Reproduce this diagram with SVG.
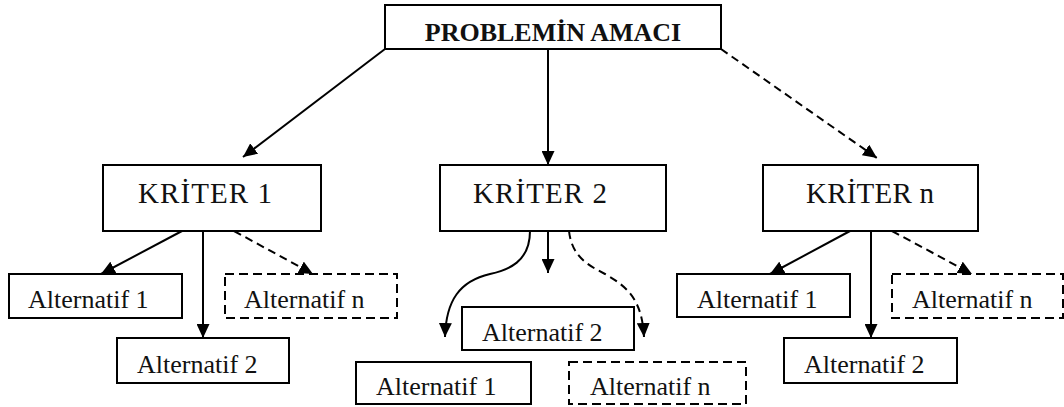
<svg xmlns="http://www.w3.org/2000/svg" width="1064" height="407" viewBox="0 0 1064 407">
<defs>
<marker id="ah" markerUnits="userSpaceOnUse" markerWidth="15" markerHeight="13" refX="14" refY="6.5" orient="auto">
<path d="M0,0 L14,6.5 L0,13 z" fill="#000"/>
</marker>
<style>
.box{fill:#fff;stroke:#000;stroke-width:2}
.dbox{fill:#fff;stroke:#000;stroke-width:2;stroke-dasharray:9 5}
.top{font-family:"Liberation Serif","Times New Roman",serif;font-weight:bold;font-size:26px;fill:#111}
.krt{font-family:"Liberation Serif","Times New Roman",serif;font-size:29px;fill:#111}
.alt{font-family:"Liberation Serif","Times New Roman",serif;font-size:26px;fill:#111}
.ln{fill:none;stroke:#000;stroke-width:2;marker-end:url(#ah)}
.dl{fill:none;stroke:#000;stroke-width:2;stroke-dasharray:8 5;marker-end:url(#ah)}
</style>
</defs>
<rect width="1064" height="407" fill="#fff"/>
<g id="connectors">
<line class="ln" x1="385" y1="49" x2="243" y2="157"/>
<line class="ln" x1="548" y1="49" x2="548" y2="165"/>
<line class="dl" x1="721" y1="49" x2="877" y2="158"/>
<line class="ln" x1="182" y1="231" x2="101" y2="274"/>
<line class="ln" x1="203" y1="231" x2="203" y2="338"/>
<line class="dl" x1="234" y1="231" x2="313" y2="274"/>
<path class="ln" d="M530 231 C530 262 508 270 490 274 C460 281 446 300 445 337"/>
<line class="ln" x1="548" y1="231" x2="548" y2="273"/>
<path class="dl" d="M569 231 C572 258 590 266 605 274 C628 287 642 300 644 337"/>
<line class="ln" x1="850" y1="231" x2="770" y2="274"/>
<line class="ln" x1="871" y1="231" x2="871" y2="338"/>
<line class="dl" x1="892" y1="231" x2="972" y2="274"/>
</g>
<g id="goal">
<rect class="box" x="385" y="5" width="336" height="44"/>
<text class="top" x="553" y="41" text-anchor="middle">PROBLEMİN AMACI</text>
</g>
<g id="k1">
<rect class="box" x="103" y="165" width="218" height="66"/>
<text class="krt" x="138" y="203" textLength="134">KRİTER 1</text>
</g>
<g id="k2">
<rect class="box" x="440" y="165" width="226" height="66"/>
<text class="krt" x="473" y="203" textLength="134">KRİTER 2</text>
</g>
<g id="kn">
<rect class="box" x="763" y="165" width="215" height="66"/>
<text class="krt" x="806" y="203" textLength="128">KRİTER n</text>
</g>
<g id="k1a1">
<rect class="box" x="9" y="274" width="173" height="44"/>
<text class="alt" x="28" y="308">Alternatif 1</text>
</g>
<g id="k1a2">
<rect class="box" x="117" y="338" width="172" height="45"/>
<text class="alt" x="137" y="373">Alternatif 2</text>
</g>
<g id="k1an">
<rect class="dbox" x="225" y="274" width="172" height="44"/>
<text class="alt" x="244" y="308">Alternatif n</text>
</g>
<g id="k2a2">
<rect class="box" x="462" y="307" width="172" height="43"/>
<text class="alt" x="482" y="341">Alternatif 2</text>
</g>
<g id="k2a1">
<rect class="box" x="356" y="362" width="175" height="42"/>
<text class="alt" x="376" y="395">Alternatif 1</text>
</g>
<g id="k2an">
<rect class="dbox" x="569" y="362" width="177" height="42"/>
<text class="alt" x="590" y="395">Alternatif n</text>
</g>
<g id="kna1">
<rect class="box" x="677" y="274" width="173" height="43"/>
<text class="alt" x="697" y="308">Alternatif 1</text>
</g>
<g id="kna2">
<rect class="box" x="784" y="338" width="173" height="45"/>
<text class="alt" x="804" y="373">Alternatif 2</text>
</g>
<g id="knan">
<rect class="dbox" x="892" y="274" width="171" height="44"/>
<text class="alt" x="912" y="308">Alternatif n</text>
</g>
</svg>
